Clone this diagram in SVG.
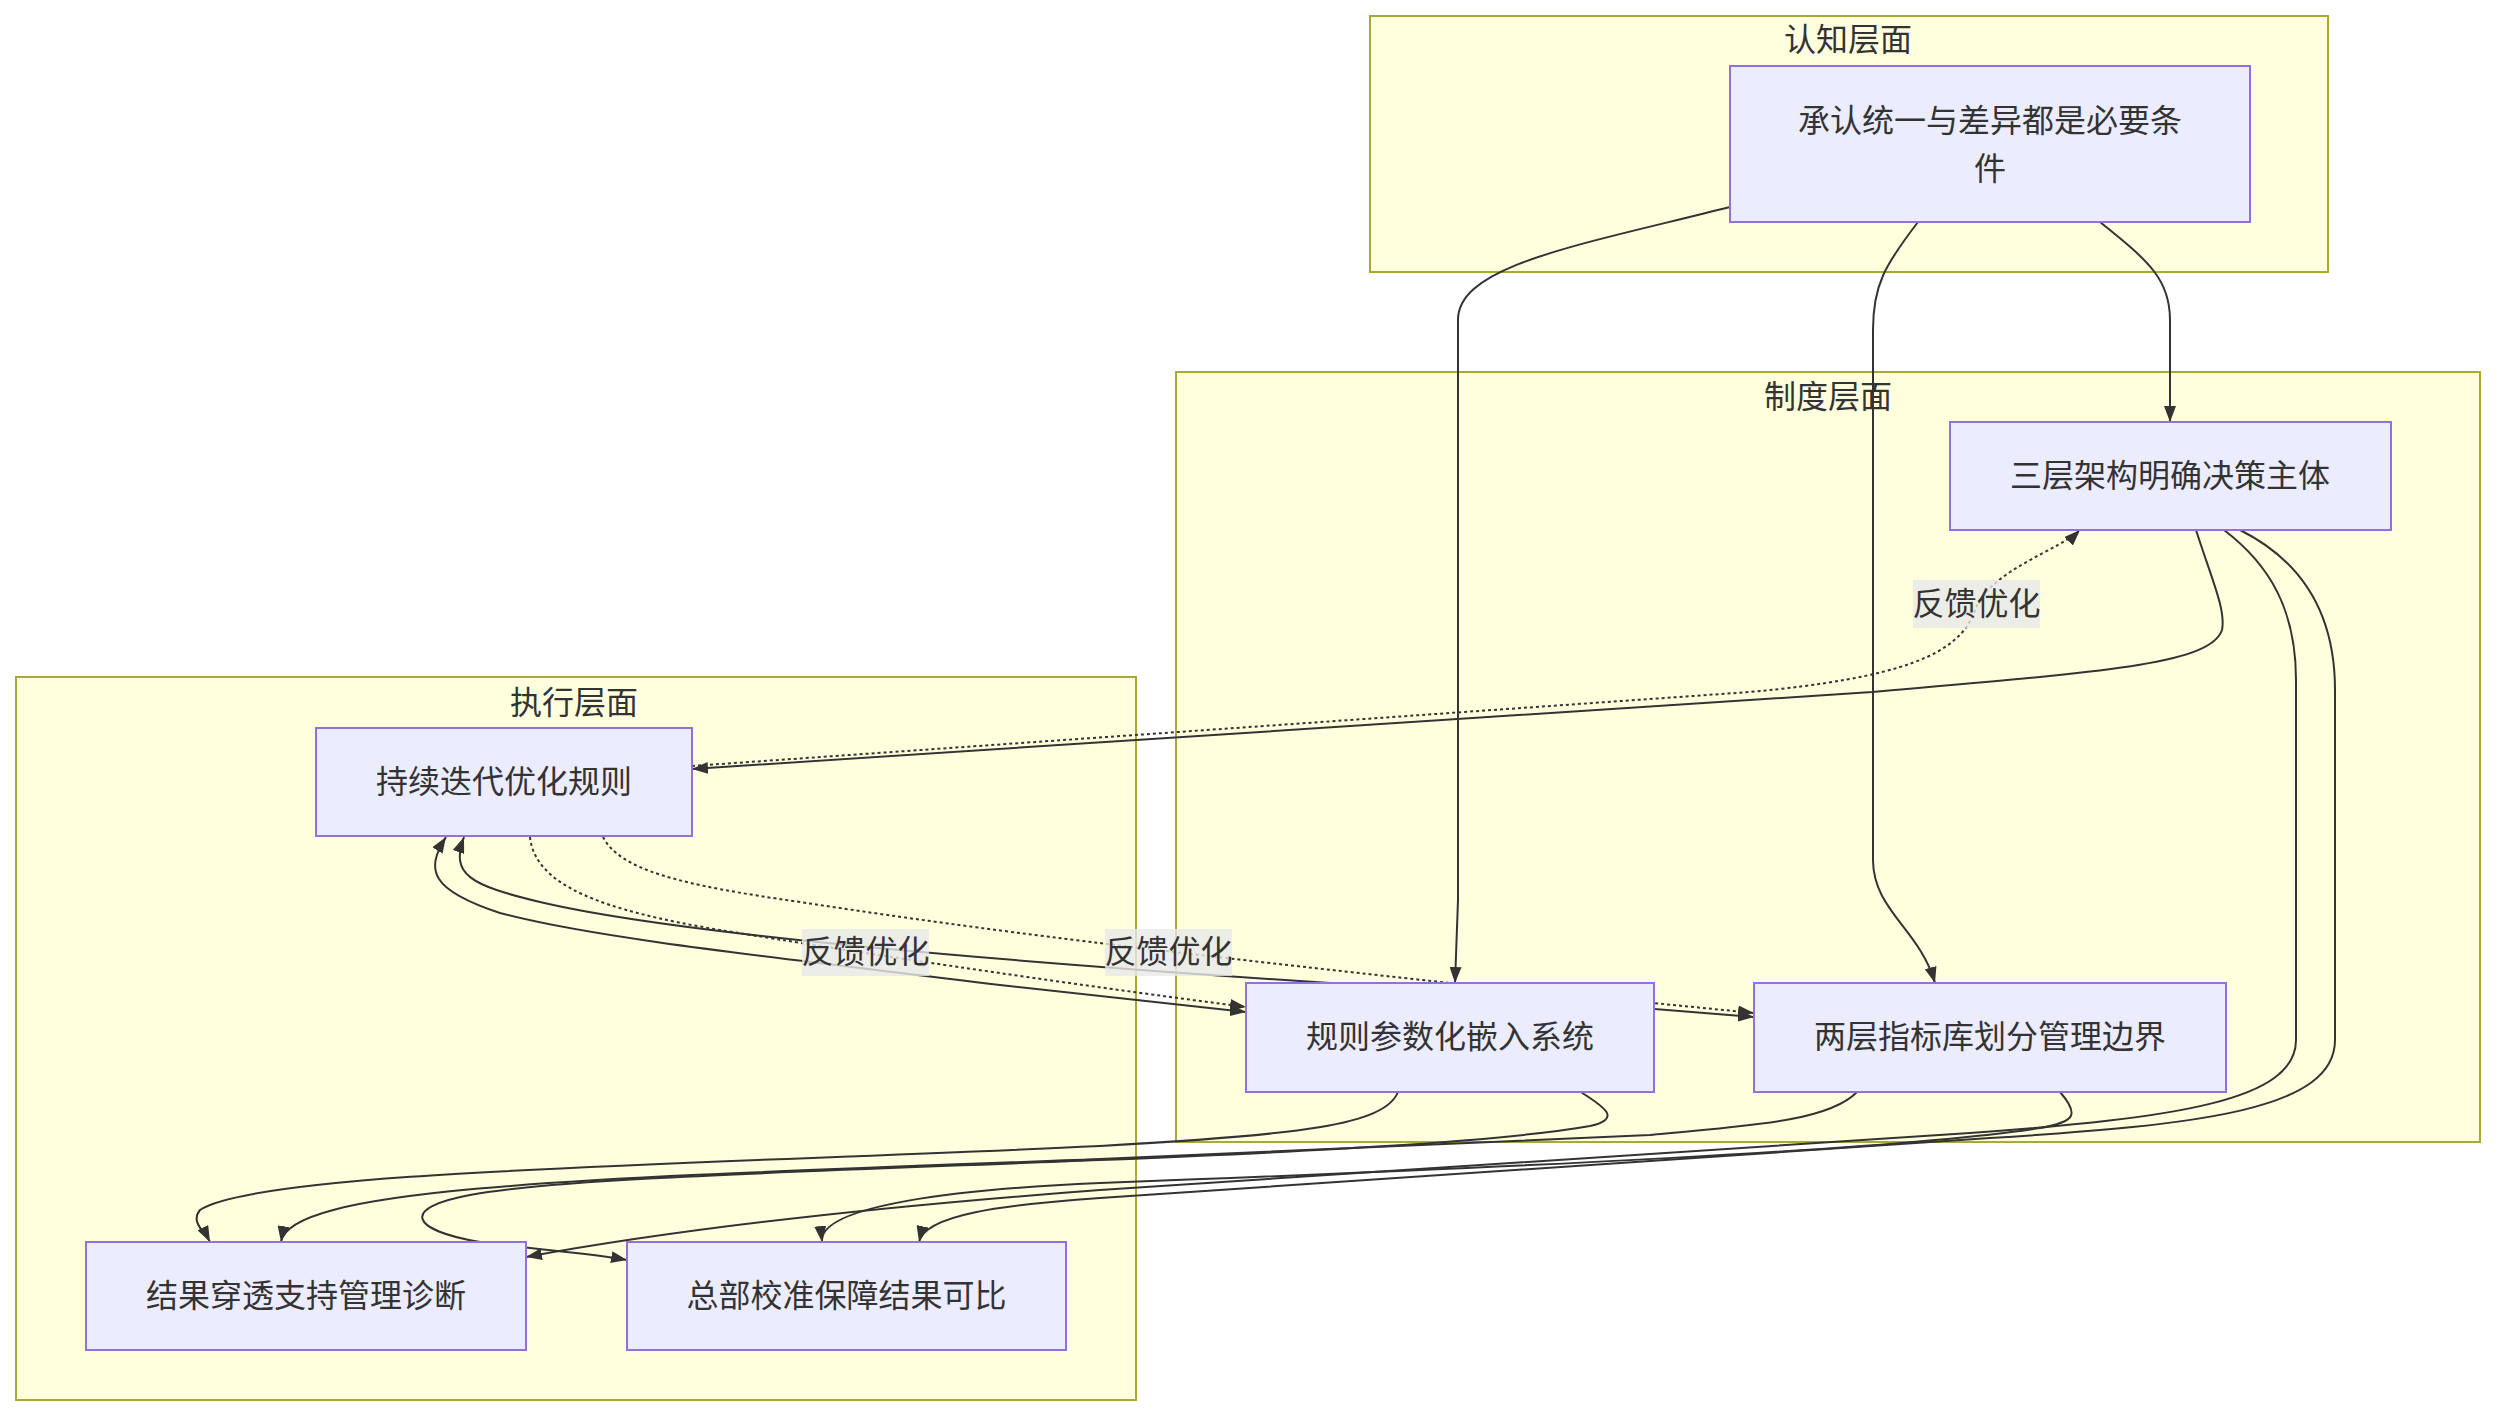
<svg xmlns="http://www.w3.org/2000/svg" width="2497" height="1416" viewBox="0 0 2497 1416">
<defs>
<style>
.cluster rect{fill:#ffffde;stroke:#aaaa33;stroke-width:2}
.node rect{fill:#ececff;stroke:#9370db;stroke-width:2}
text{font-family:"Noto Sans CJK SC","Noto Sans",sans-serif;font-size:32px;fill:#333;text-anchor:middle;dominant-baseline:central}
.edge{fill:none;stroke:#333;stroke-width:2}
.dot{stroke-dasharray:3 3}
.lbl rect{fill:#e8e8e8;fill-opacity:0.8}
</style>
<marker id="arr" viewBox="0 0 10 10" refX="10" refY="5" markerWidth="16" markerHeight="12" markerUnits="userSpaceOnUse" orient="auto-start-reverse" preserveAspectRatio="none">
<path d="M0,0 L10,5 L0,10 z" fill="#333"/>
</marker>
</defs>
<rect width="2497" height="1416" fill="#ffffff"/>
<g id="clusters">
<g id="cluster-cognition" class="cluster"><rect x="1370" y="16" width="958" height="256"/><text x="1848" y="37">认知层面</text></g>
<g id="cluster-institution" class="cluster"><rect x="1176" y="372" width="1304" height="770"/><text x="1828" y="394">制度层面</text></g>
<g id="cluster-execution" class="cluster"><rect x="16" y="677" width="1120" height="723"/><text x="574" y="700">执行层面</text></g>
</g>
<g id="connectors">
<path class="edge" d="M2100,222 C2150,262 2170,280 2170,320 L2170,422" marker-end="url(#arr)"/>
<path class="edge" d="M1918,222 C1885,265 1873,285 1873,330 L1873,860 C1873,910 1920,930 1935,983" marker-end="url(#arr)"/>
<path class="edge" d="M1730,207 C1580,245 1458,265 1458,320 L1458,900 L1455,983" marker-end="url(#arr)"/>
<path class="edge" d="M2196,530 C2212,580 2226,610 2222,630 C2210,665 2100,672 1872,692 L692,769" marker-end="url(#arr)"/>
<path class="edge dot" d="M692,766 L1750,692 C1900,678 1960,655 1975,610 C1990,570 2060,550 2080,530" marker-end="url(#arr)"/>
<path class="edge" d="M2224,530 C2270,565 2296,610 2296,680 L2296,1040 C2296,1100 2180,1118 1970,1133 L1100,1190 C900,1205 700,1225 526,1257" marker-end="url(#arr)"/>
<path class="edge" d="M2240,530 C2300,560 2335,610 2335,690 L2335,1040 C2335,1110 2200,1125 1990,1138 L1100,1198 C1000,1205 925,1215 919,1242" marker-end="url(#arr)"/>
<path class="edge" d="M2060,1092 C2080,1115 2075,1122 2040,1128 C1900,1150 1500,1168 1100,1183 C960,1189 818,1205 822,1242" marker-end="url(#arr)"/>
<path class="edge" d="M1857,1092 C1830,1120 1760,1125 1650,1135 L1100,1159 C600,1178 290,1185 281,1242" marker-end="url(#arr)"/>
<path class="edge" d="M1581,1092 C1600,1105 1625,1118 1590,1126 C1500,1142 1300,1152 1100,1160 C800,1172 560,1178 470,1195 C400,1208 410,1230 480,1242 C540,1250 590,1253 627,1260" marker-end="url(#arr)"/>
<path class="edge" d="M1398,1092 C1385,1125 1300,1135 1100,1146 C700,1165 260,1170 200,1210 C190,1222 205,1232 210,1242" marker-end="url(#arr)"/>
<path class="edge" d="M446,837 C425,870 430,890 500,913 C600,940 800,960 1000,985 L1246,1012" marker-start="url(#arr)" marker-end="url(#arr)"/>
<path class="edge" d="M464,837 C450,875 470,885 540,902 C650,928 900,955 1330,983 L1754,1017" marker-start="url(#arr)" marker-end="url(#arr)"/>
<path class="edge dot" d="M530,837 C535,885 600,910 720,930 C800,943 1000,975 1246,1007" marker-end="url(#arr)"/>
<path class="edge dot" d="M603,837 C620,870 680,885 800,902 C950,925 1100,945 1450,983 L1754,1013" marker-end="url(#arr)"/>
<g id="edge-labels">
<g class="lbl"><rect x="1913" y="580" width="127" height="48"/><text x="1976.5" y="601">反馈优化</text></g>
<g class="lbl"><rect x="802" y="929" width="127" height="47"/><text x="865.5" y="949">反馈优化</text></g>
<g class="lbl"><rect x="1105" y="929" width="127" height="47"/><text x="1168.5" y="949">反馈优化</text></g>
</g>
</g>
<g id="node-cognition" class="node"><rect x="1730" y="66" width="520" height="156"/><text x="1990" y="118">承认统一与差异都是必要条</text><text x="1990" y="166">件</text></g>
<g id="node-three-tier" class="node"><rect x="1950" y="422" width="441" height="108"/><text x="2170" y="473">三层架构明确决策主体</text></g>
<g id="node-iterate" class="node"><rect x="316" y="728" width="376" height="108"/><text x="504" y="779">持续迭代优化规则</text></g>
<g id="node-rules" class="node"><rect x="1246" y="983" width="408" height="109"/><text x="1450" y="1034">规则参数化嵌入系统</text></g>
<g id="node-two-tier" class="node"><rect x="1754" y="983" width="472" height="109"/><text x="1990" y="1034">两层指标库划分管理边界</text></g>
<g id="node-result" class="node"><rect x="86" y="1242" width="440" height="108"/><text x="306" y="1293">结果穿透支持管理诊断</text></g>
<g id="node-hq" class="node"><rect x="627" y="1242" width="439" height="108"/><text x="846.5" y="1293">总部校准保障结果可比</text></g>
</svg>
